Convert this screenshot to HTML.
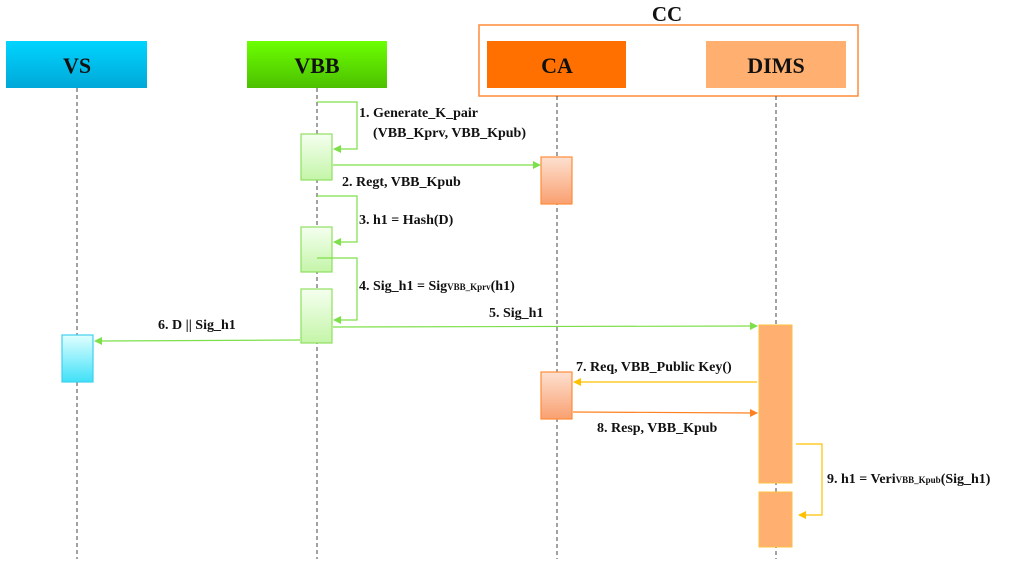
<!DOCTYPE html>
<html><head><style>
body{margin:0;background:#fff;}
svg text{font-family:"Liberation Serif",serif;font-weight:bold;fill:#111;}
</style></head><body>
<svg width="1024" height="559" viewBox="0 0 1024 559" xmlns="http://www.w3.org/2000/svg">
<defs>
<linearGradient id="gs" x1="0" y1="0" x2="0" y2="1"><stop offset="0" stop-color="#00d4ff"/><stop offset="1" stop-color="#00a8d8"/></linearGradient>
<linearGradient id="gv" x1="0" y1="0" x2="0" y2="1"><stop offset="0" stop-color="#6cff00"/><stop offset="1" stop-color="#4cc000"/></linearGradient>
<linearGradient id="ga" x1="0" y1="0" x2="0" y2="1"><stop offset="0" stop-color="#f5fff0"/><stop offset="1" stop-color="#c4f5a8"/></linearGradient>
<linearGradient id="gc" x1="0" y1="0" x2="0" y2="1"><stop offset="0" stop-color="#fde0d0"/><stop offset="1" stop-color="#f9a070"/></linearGradient>
<linearGradient id="gb" x1="0" y1="0" x2="0" y2="1"><stop offset="0" stop-color="#e0ffff"/><stop offset="1" stop-color="#40e0f8"/></linearGradient>
<marker id="mg" markerWidth="8" markerHeight="8" refX="7" refY="4" orient="auto" markerUnits="userSpaceOnUse"><path d="M0,0 L8,4 L0,8z" fill="#7de04a"/></marker>
<marker id="my" markerWidth="8" markerHeight="8" refX="7" refY="4" orient="auto" markerUnits="userSpaceOnUse"><path d="M0,0 L8,4 L0,8z" fill="#ffc000"/></marker>
<marker id="mo" markerWidth="8" markerHeight="8" refX="7" refY="4" orient="auto" markerUnits="userSpaceOnUse"><path d="M0,0 L8,4 L0,8z" fill="#ff8020"/></marker>
</defs>
<!-- CC -->
<rect x="479" y="25" width="379" height="71" fill="none" stroke="#ff8c3a" stroke-width="1.5"/>
<text x="667" y="21" font-size="21" text-anchor="middle">CC</text>
<!-- headers -->
<rect x="6" y="41" width="141" height="47" fill="url(#gs)"/>
<text x="77" y="73" font-size="22" text-anchor="middle">VS</text>
<rect x="247" y="41" width="140" height="47" fill="url(#gv)"/>
<text x="317" y="73" font-size="22" text-anchor="middle">VBB</text>
<rect x="487" y="41" width="139" height="47" fill="#ff7000"/>
<text x="557" y="73" font-size="22" text-anchor="middle">CA</text>
<rect x="706" y="41" width="140" height="47" fill="#ffb070"/>
<text x="776" y="73" font-size="22" text-anchor="middle">DIMS</text>
<!-- lifelines -->
<g stroke="#444" stroke-width="1" stroke-dasharray="4,3">
<line x1="77" y1="88" x2="77" y2="559"/>
<line x1="317" y1="88" x2="317" y2="559"/>
<line x1="557" y1="96" x2="557" y2="559"/>
<line x1="776" y1="96" x2="776" y2="559"/>
</g>
<!-- activations -->
<g stroke="#8fe060" stroke-width="1.2" fill="url(#ga)">
<rect x="301" y="134" width="31" height="46"/>
<rect x="301" y="227" width="31" height="45"/>
<rect x="301" y="289" width="31" height="54"/>
</g>
<rect x="541" y="157" width="31" height="47" fill="url(#gc)" stroke="#ff8c3a" stroke-width="1.2"/>
<rect x="541" y="372" width="31" height="47" fill="url(#gc)" stroke="#ff8c3a" stroke-width="1.2"/>
<rect x="62" y="335" width="31" height="47" fill="url(#gb)" stroke="#40d0f0" stroke-width="1.2"/>
<rect x="759" y="325" width="33" height="158" fill="#ffb070" stroke="#ffc040" stroke-width="1"/>
<rect x="759" y="492" width="33" height="55" fill="#ffb070" stroke="#ffc040" stroke-width="1"/>
<!-- arrows -->
<g fill="none" stroke="#7de04a" stroke-width="1.2">
<polyline points="317,102 357,102 357,149 334,149" marker-end="url(#mg)"/>
<line x1="333" y1="165" x2="540" y2="165" marker-end="url(#mg)"/>
<polyline points="317,196 357,196 357,242 334,242" marker-end="url(#mg)"/>
<polyline points="317,258 357,258 357,320 334,320" marker-end="url(#mg)"/>
<line x1="333" y1="327" x2="757" y2="326" marker-end="url(#mg)"/>
<line x1="300" y1="340" x2="95" y2="341" marker-end="url(#mg)"/>
</g>
<line x1="757" y1="382" x2="574" y2="382" stroke="#ffc000" stroke-width="1.2" marker-end="url(#my)"/>
<line x1="573" y1="412" x2="757" y2="413" stroke="#ff8020" stroke-width="1.2" marker-end="url(#mo)"/>
<polyline points="796,444 822,444 822,515 799,515" fill="none" stroke="#ffc000" stroke-width="1.2" marker-end="url(#my)"/>
<!-- labels -->
<g font-size="14">
<text x="359" y="117">1. Generate_K_pair</text>
<text x="373" y="137">(VBB_Kprv, VBB_Kpub)</text>
<text x="342" y="186">2. Regt, VBB_Kpub</text>
<text x="359" y="224">3. h1 = Hash(D)</text>
<text x="359" y="290">4. Sig_h1 = Sig<tspan font-size="9">VBB_Kprv</tspan>(h1)</text>
<text x="489" y="317">5. Sig_h1</text>
<text x="158" y="329">6. D || Sig_h1</text>
<text x="576" y="371">7. Req, VBB_Public Key()</text>
<text x="597" y="432">8. Resp, VBB_Kpub</text>
<text x="827" y="483">9. h1 = Veri<tspan font-size="9">VBB_Kpub</tspan>(Sig_h1)</text>
</g>
</svg>
</body></html>
